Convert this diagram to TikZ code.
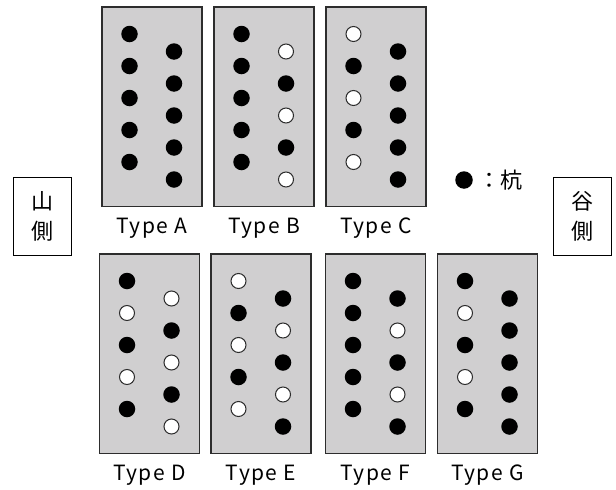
\documentclass[tikz,border=0pt]{standalone}
\usepackage{fontspec}
\setmainfont{Noto Sans CJK JP}
\newfontfamily\capfont[LetterSpace=7]{Noto Sans CJK JP}
\definecolor{panelfill}{RGB}{208,207,208}
\definecolor{edgegray}{RGB}{45,45,45}
\tikzset{
  panel/.style={draw=edgegray, line width=1.3pt, fill=panelfill, anchor=north west,
    minimum width=100pt, minimum height=199.5pt, inner sep=0pt, outer sep=0pt},
  pile/.style={circle, fill=black, minimum size=16.5pt, inner sep=0pt},
  nopile/.style={circle, draw=edgegray, line width=1pt, fill=white, minimum size=15pt, inner sep=0pt},
  typelabel/.style={font=\capfont\fontsize{21}{25}\selectfont, inner sep=0pt},
  sidebox/.style={draw=black, line width=1pt, minimum width=58pt, minimum height=78pt,
    align=center, font=\fontsize{22}{30}\selectfont, inner sep=0pt},
}
% #1 name, #2 x, #3 y (top-left), #4 caption, #5 left column, #6 right column
\newcommand\pilepanel[6]{%
  \node[panel] (#1) at (#2,#3) {};
  \foreach \s [count=\k from 0] in {#5} {
    \node[\s] (#1-l\k) at (#2+27.5, #3+27+32*\k) {};
  }
  \foreach \s [count=\k from 0] in {#6} {
    \node[\s] (#1-r\k) at (#2+72, #3+44.5+32*\k) {};
  }
  \node[typelabel] (#1-cap) at (#2+50, #3+221) {#4};
}
\begin{document}
\begin{tikzpicture}[x=1pt, y=-1pt]
  \useasboundingbox (0,0) rectangle (616,490);

  % upper row
  \pilepanel{A}{102}{7}{Type A}{pile,pile,pile,pile,pile}{pile,pile,pile,pile,pile}
  \pilepanel{B}{214}{7}{Type B}{pile,pile,pile,pile,pile}{nopile,pile,nopile,pile,nopile}
  \pilepanel{C}{326}{7}{Type C}{nopile,pile,nopile,pile,nopile}{pile,pile,pile,pile,pile}

  % lower row
  \pilepanel{D}{99.5}{254}{Type D}{pile,nopile,pile,nopile,pile}{nopile,pile,nopile,pile,nopile}
  \pilepanel{E}{211}{254}{Type E}{nopile,pile,nopile,pile,nopile}{pile,nopile,pile,nopile,pile}
  \pilepanel{F}{325.5}{254}{Type F}{pile,pile,pile,pile,pile}{pile,nopile,pile,nopile,pile}
  \pilepanel{G}{437.5}{254}{Type G}{pile,nopile,pile,nopile,pile}{pile,pile,pile,pile,pile}

  % legend
  \node[pile, minimum size=17.5pt] (legdot) at (464,180) {};
  \node[anchor=west, inner sep=0pt, font=\fontsize{22}{26}\selectfont] (legtext) at (478,180) {：杭};

  % sides
  \node[sidebox] (mountain) at (42,216.7) {山\\側};
  \node[sidebox] (valley) at (582.5,216.7) {谷\\側};
\end{tikzpicture}
\end{document}
